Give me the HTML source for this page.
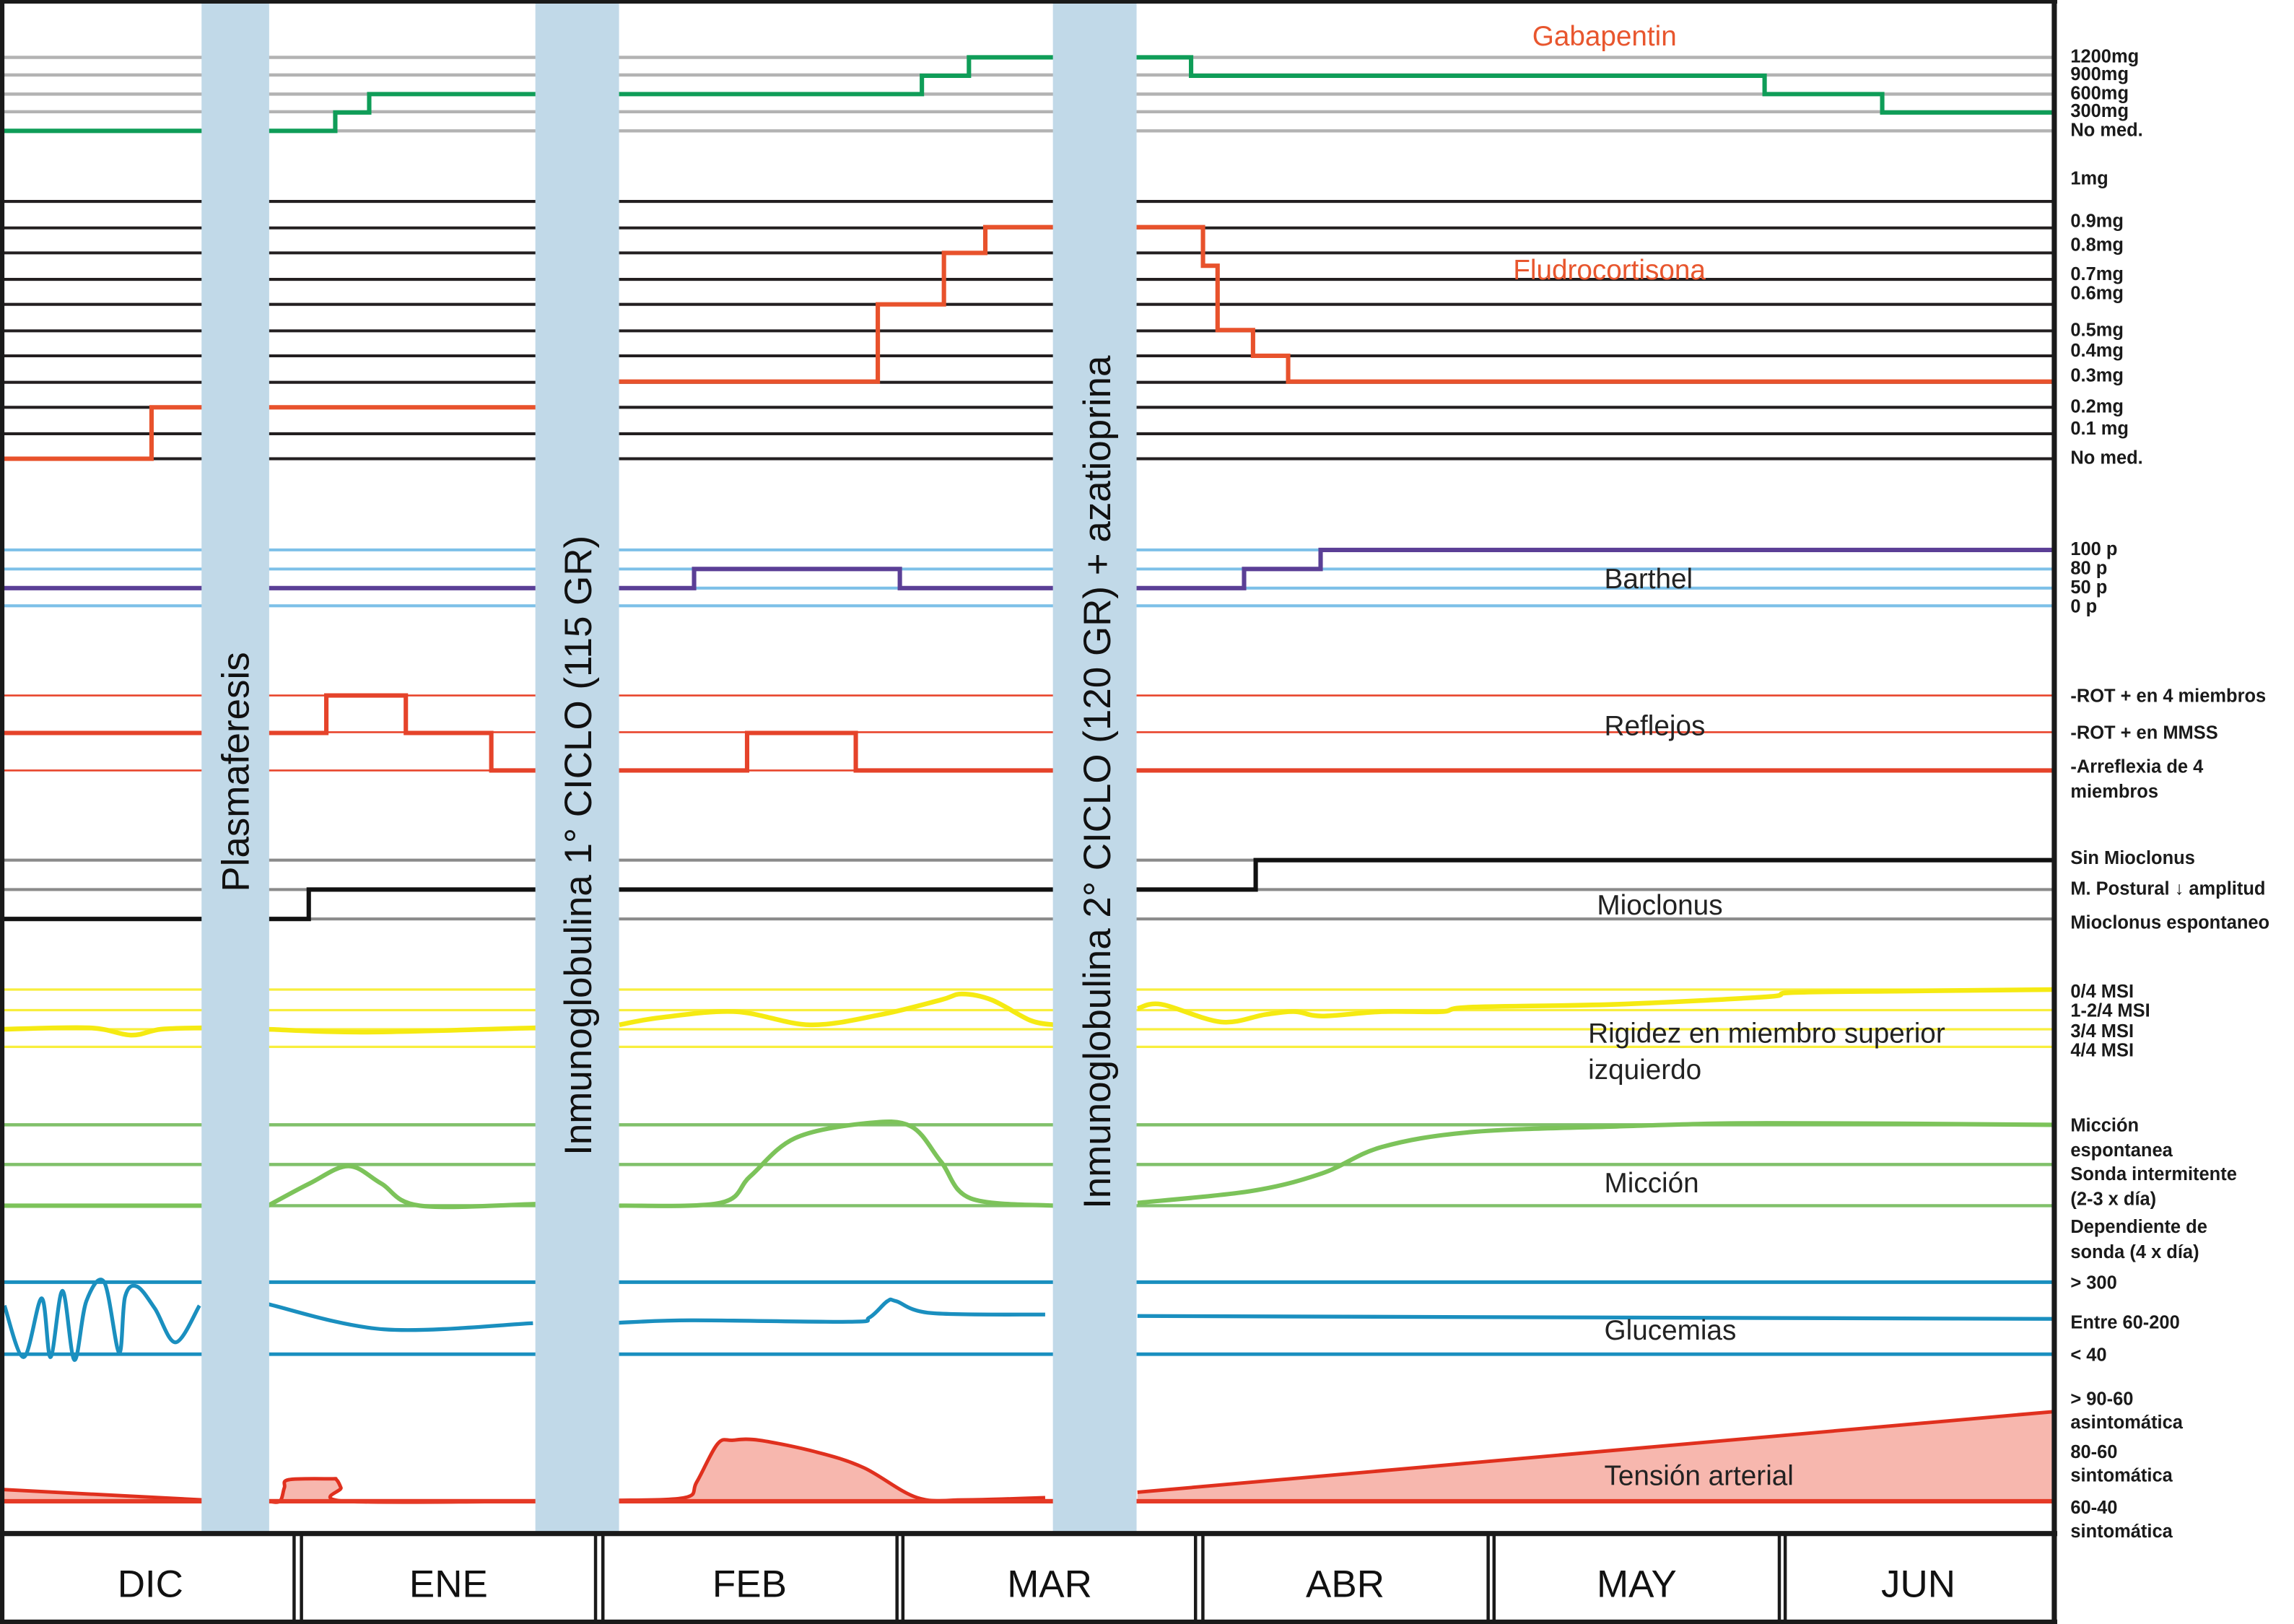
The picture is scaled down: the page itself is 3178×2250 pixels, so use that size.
<!DOCTYPE html>
<html><head><meta charset="utf-8">
<style>
html,body{margin:0;padding:0;background:#fff;}
svg{display:block;}
text{font-family:"Liberation Sans",sans-serif;}
.rl{font-size:12.5px;font-weight:bold;fill:#1a1a1a;}
.sl{font-size:19px;fill:#222;}
</style></head>
<body>
<svg id="chart" width="3178" height="2250" viewBox="0 0 1560 1104.5" preserveAspectRatio="none" xmlns="http://www.w3.org/2000/svg">
<g id="refs"></g>
<g id="series"></g>
<g id="bars"></g>
<g id="labels"></g>
</svg>
<script>
// ---- data (x in months since start of DIC) ----
const months = ["DIC","ENE","FEB","MAR","ABR","MAY","JUN"];
const gabaX = [0,1.116,1.23,3.086,3.244,3.99,5.916,6.311];
const gabaV = [0,300,600,900,1200,900,600,300];
const fluX = [0,0.499,1.9,2.938,3.16,3.299,4.03,4.079,4.198,4.316];
const fluV = [0,0.2,0.3,0.6,0.8,0.9,0.75,0.5,0.4,0.3];
const barX = [0,2.321,3.012,4.168,4.425];
const barV = [50,80,50,80,100];
const refX = [0,1.086,1.353,1.64,1.9,2.499,2.864];
const refV = [1,2,1,0,0,1,0];
const mioX = [0,1.027,4.207];
const mioV = [0,1,2];
const rigSegX = [[0,0.29,0.43,0.53,0.67],[0.89,1.22,1.79],[2.07,2.21,2.46,2.71,2.95,3.15,3.22,3.32,3.45,3.53],[3.81,3.89,4.09,4.24,4.34,4.43,4.63,4.83,4.93,5.42,5.92,6.01,6.41,6.89]];
const rigSegV = [[2.77,2.67,3.18,2.77,2.67],[2.77,2.97,2.67],[2.46,1.95,1.54,2.46,1.74,0.72,0.31,0.72,2.15,2.46],[1.33,1.03,2.26,1.74,1.54,1.85,1.54,1.54,1.23,1.03,0.51,0.21,0.1,0]];
const micSegX = [[0,0.67],[0.89,1.03,1.16,1.27,1.40,1.79],[2.07,2.41,2.51,2.66,2.90,3.05,3.15,3.25,3.53],[3.81,4.19,4.43,4.63,4.93,5.42,5.92,6.89]];
const micSegV = [[0,0],[0,0.55,0.98,0.55,0,0.04],[0,0.07,0.73,1.67,2.04,1.96,1.09,0.18,0],[0.07,0.36,0.8,1.45,1.82,1.96,2.04,2]];
const gluSegX = [[0.005,0.07,0.13,0.16,0.2,0.24,0.28,0.34,0.39,0.41,0.45,0.51,0.58,0.66],[0.89,1.28,1.78],[2.06,2.31,2.84,2.91,2.97,3.0,3.12,3.5],[3.81,6.89]];
const gluSegV = [[1.35,-0.08,1.55,-0.08,1.76,-0.16,1.47,2,0.04,1.59,1.88,1.27,0.33,1.35],[1.39,0.69,0.86],[0.87,0.94,0.9,1.02,1.47,1.47,1.14,1.1],[1.06,0.98]];
const tenSegX = [[0,0.67],[0.89,0.93,0.945,0.96,1.1,1.12,1.135,1.15,1.79],[2.06,2.29,2.33,2.40,2.45,2.54,2.73,2.89,3.07,3.23,3.5],[3.81,6.89]];
const tenSegV = [[0.26,0.03],[0,0,0.3,0.48,0.5,0.48,0.3,0,0],[0.02,0.08,0.43,1.28,1.36,1.36,1.1,0.75,0.08,0.03,0.08],[0.2,2]];
const treatX = [[0.667,0.894],[1.788,2.069],[3.526,3.807]];

// ---- scales ----
const xS = m => 2 + m*202.5;
const XR = 1397;
const gabaY = v => 89 - v/300*12.5;
const fluY = v => 312 - v*10*17.5;
const barMap = {0:412,50:400,80:387,100:374};
const barY = v => barMap[v];
const refY = v => 524 - v*25.5;
const mioY = v => 625 - v*20;
const rigY = v => 673 + v*9.75;
const micY = v => 820 - v*27.5;
const gluY = v => 921 - v*24.5;
const tenY = v => 1021 - v*30.5;

const NS = "http://www.w3.org/2000/svg";
const refs = document.getElementById('refs');
const ser = document.getElementById('series');
const barsG = document.getElementById('bars');

function mk(tag, parent, attrs){const e=document.createElementNS(NS,tag);for(const k in attrs)e.setAttribute(k,attrs[k]);parent.appendChild(e);return e;}

function hline(y,color,w,name){
  const l=mk('line',refs,{x1:2,x2:XR,y1:y,y2:y,stroke:color,'stroke-width':w});
  
  
}
[39,51,64,76,89].forEach(y=>hline(y,'#b3b3b3',2.2,'gabapentin-level-line'));
[137,155,172,190,207,225,242,260,277,295,312].forEach(y=>hline(y,'#231f20',2,'fludrocortisona-level-line'));
[374,387,400,412].forEach(y=>hline(y,'#7dc0e8',2,'barthel-level-line'));
[473,498,524].forEach(y=>hline(y,'#e8452c',1.3,'reflejos-level-line'));
[585,605,625].forEach(y=>hline(y,'#8a8a8a',2,'mioclonus-level-line'));
[673,687,700,712].forEach(y=>hline(y,'#f8ee3c',1.6,'rigidez-level-line'));
[765,792,820].forEach(y=>hline(y,'#80c06a',2.2,'miccion-level-line'));
[872,921].forEach(y=>hline(y,'#1a8fbf',2.4,'glucemias-level-line'));
hline(1021,'#e53a26',3,'tension-baseline');

function stepPath(xs,vs,yf){
  let d='M'+xS(xs[0])+','+yf(vs[0]);
  for(let i=1;i<xs.length;i++){d+=' H'+xS(xs[i])+' V'+yf(vs[i]);}
  d+=' H'+XR;return d;
}
function smooth(pts){
  let d='M'+pts[0][0]+','+pts[0][1];
  for(let i=0;i<pts.length-1;i++){
    const p0=pts[Math.max(0,i-1)],p1=pts[i],p2=pts[i+1],p3=pts[Math.min(pts.length-1,i+2)];
    const c1x=p1[0]+(p2[0]-p0[0])/6,c1y=p1[1]+(p2[1]-p0[1])/6;
    const c2x=p2[0]-(p3[0]-p1[0])/6,c2y=p2[1]-(p3[1]-p1[1])/6;
    d+=' C'+c1x+','+c1y+' '+c2x+','+c2y+' '+p2[0]+','+p2[1];
  }
  return d;
}
function segPts(xs,vs,yf){return xs.map((x,i)=>[xS(x),yf(vs[i])]);}

let p;
p=mk('path',ser,{d:stepPath(gabaX,gabaV,gabaY),fill:'none',stroke:'#0f9d58',"stroke-width":3});


p=mk('path',ser,{d:stepPath(fluX,fluV,fluY),fill:'none',stroke:'#e8522c',"stroke-width":3});


p=mk('path',ser,{d:stepPath(barX,barV,barY),fill:'none',stroke:'#5b3f96',"stroke-width":3});


p=mk('path',ser,{d:stepPath(refX,refV,refY),fill:'none',stroke:'#e5432a',"stroke-width":3});


p=mk('path',ser,{d:stepPath(mioX,mioV,mioY),fill:'none',stroke:'#111',"stroke-width":3});



rigSegX.forEach((xs,i)=>{
  const q=mk('path',ser,{d:smooth(segPts(xs,rigSegV[i],rigY)),fill:'none',stroke:'#f5ea12',"stroke-width":3.2});
  
  
});
micSegX.forEach((xs,i)=>{
  const q=mk('path',ser,{d:smooth(segPts(xs,micSegV[i],micY)),fill:'none',stroke:'#7cc35a',"stroke-width":3});
  
  
});
gluSegX.forEach((xs,i)=>{
  const q=mk('path',ser,{d:smooth(segPts(xs,gluSegV[i],gluY)),fill:'none',stroke:'#1a8fbf',"stroke-width":2.6});
  
  
});
tenSegX.forEach((xs,i)=>{
  const pts=segPts(xs,tenSegV[i],tenY);
  const line = xs.length===2 ? 'M'+pts[0][0]+','+pts[0][1]+' L'+pts[1][0]+','+pts[1][1] : smooth(pts);
  const f=mk('path',ser,{d:line+' L'+pts[pts.length-1][0]+','+tenY(0)+' L'+pts[0][0]+','+tenY(0)+' Z',fill:'#f7b7ae',stroke:'none'});
  
  
  const q=mk('path',ser,{d:line,fill:'none',stroke:'#e0301e',"stroke-width":2.4});
  
  
});
p=mk('line',ser,{x1:2,x2:XR,y1:1021,y2:1021,stroke:'#e53a26','stroke-width':3});



const treatNames=['plasmaferesis-bar','inmunoglobulina-1-bar','inmunoglobulina-2-bar'];
treatX.forEach((t,i)=>{
  const r=mk('rect',barsG,{x:xS(t[0]),y:2,width:xS(t[1])-xS(t[0]),height:1040,fill:'#c1d9e8'});
  
  
});
</script>
<script>
(function(){
const NS="http://www.w3.org/2000/svg";
const lab=document.getElementById('labels');
function t(x,y,s,cls,extra,name,style){const e=document.createElementNS(NS,'text');e.setAttribute('x',x);e.setAttribute('y',y);if(cls)e.setAttribute('class',cls);for(const k in extra)e.setAttribute(k,extra[k]);if(style)e.setAttribute('style',style);e.textContent=s;


lab.appendChild(e);return e;}
t(0,0,'Plasmaferesis','',{transform:'translate(169,525) rotate(-90)','text-anchor':'middle','font-size':'26','fill':'#111'},'plasmaferesis-label');
t(0,0,'Inmunoglobulina 1° CICLO   (115 GR)','',{transform:'translate(402,575) rotate(-90)','text-anchor':'middle','font-size':'26','fill':'#111','xml:space':'preserve'},'inmunoglobulina-1-label');
t(0,0,'Inmunoglobulina 2° CICLO  (120  GR) + azatioprina','',{transform:'translate(755,532) rotate(-90)','text-anchor':'middle','font-size':'26','fill':'#111','xml:space':'preserve'},'inmunoglobulina-2-label');
t(1042,31,'Gabapentin','sl',{},'gabapentin-title','fill:#e8562e');
t(1029,190,'Fludrocortisona','sl',{},'fludrocortisona-title','fill:#e8562e');
t(1091,400,'Barthel','sl',{},'barthel-title');
t(1091,500,'Reflejos','sl',{},'reflejos-title');
t(1086,622,'Mioclonus','sl',{},'mioclonus-title');
t(1080,709,'Rigidez en miembro superior','sl',{},'rigidez-title');
t(1080,734,'izquierdo','sl',{},'rigidez-title-2');
t(1091,811,'Micción','sl',{},'miccion-title');
t(1091,911,'Glucemias','sl',{},'glucemias-title');
t(1091,1010,'Tensión arterial','sl',{},'tension-title');
const rl=[['1200mg',38],['900mg',50],['600mg',63],['300mg',75],['No med.',88],['1mg',121],['0.9mg',150],['0.8mg',166],['0.7mg',186],['0.6mg',199],['0.5mg',224],['0.4mg',238],['0.3mg',255],['0.2mg',276],['0.1 mg',291],['No med.',311],['100 p',373],['80 p',386],['50 p',399],['0 p',412],['-ROT + en 4 miembros',473],['-ROT  + en MMSS',498],['-Arreflexia de 4',521],['miembros',538],['Sin  Mioclonus',583],['M. Postural ↓ amplitud',604],['Mioclonus espontaneo',627],['0/4 MSI',674],['1-2/4 MSI',687],['3/4 MSI',701],['4/4 MSI',714],['Micción',765],['espontanea',782],['Sonda intermitente',798],['(2-3 x día)',815],['Dependiente de',834],['sonda (4 x día)',851],['> 300',872],['Entre 60-200',899],['< 40',921],['> 90-60',951],['asintomática',967],['80-60',987],['sintomática',1003],['60-40',1025],['sintomática',1041]];
rl.forEach(r=>t(1408,r[1]+4.5,r[0],'rl',{'xml:space':'preserve'},'axis-label'));
function ln(x1,y1,x2,y2,w,name){const e=document.createElementNS(NS,'line');e.setAttribute('x1',x1);e.setAttribute('y1',y1);e.setAttribute('x2',x2);e.setAttribute('y2',y2);e.setAttribute('stroke','#1a1a1a');e.setAttribute('stroke-width',w);


lab.appendChild(e);}
ln(0,1.2,1399,1.2,2.5,'top-border');
ln(1.5,0,1.5,1104.5,3,'left-border');
ln(1397,0,1397,1104.5,3.5,'right-border');
ln(0,1043,1399,1043,3.5,'month-axis-top');
ln(0,1103,1399,1103,3,'month-axis-bottom');
const divs=[[200,205],[405,410],[610,614],[813,818],[1012,1016],[1210,1214]];
divs.forEach(d=>{ln(d[0],1043,d[0],1104.5,2.2,'month-divider');ln(d[1],1043,d[1],1104.5,2.2,'month-divider');});
const bounds=[2,202.5,407.5,612,815.5,1014,1212,1397];
const months=["DIC","ENE","FEB","MAR","ABR","MAY","JUN"];
months.forEach((m,i)=>t((bounds[i]+bounds[i+1])/2,1086,m,'',{'text-anchor':'middle','font-size':'26','fill':'#111'},'month-label-'+m.toLowerCase()));
})();
</script>
</body></html>
